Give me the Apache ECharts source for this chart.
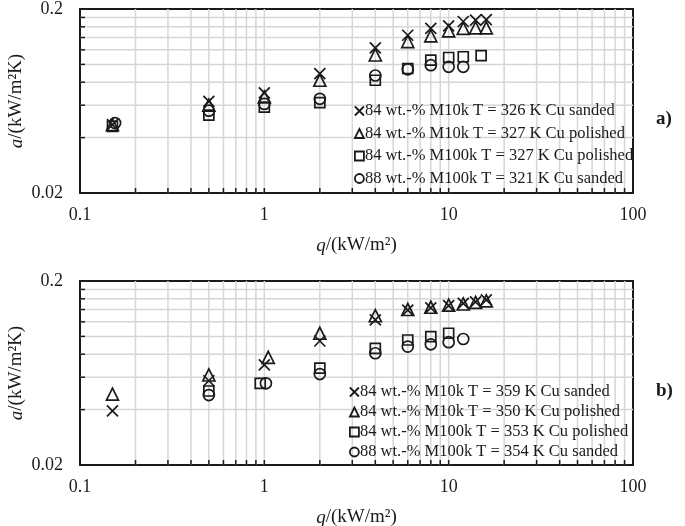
<!DOCTYPE html>
<html>
<head>
<meta charset="utf-8">
<script src="https://cdn.jsdelivr.net/npm/echarts@6/dist/echarts.min.js"></script>
<style>html,body{margin:0;padding:0;background:#fff}#c{width:685px;height:526px}</style>
</head>
<body>
<div id="c"></div>
<script>
// ---------- data ----------
const xTickLabels = [0.1, 1, 10, 100];
const yTickLabels = [0.02, 0.2];
const xGridValues = [0.2,0.3,0.4,0.5,0.6,0.7,0.8,0.9,1,2,3,4,5,6,7,8,9,10,20,30,40,50,60,70,80,90];
const yGridValues = [0.04,0.06,0.08,0.1,0.12,0.14,0.16,0.18];
const X_MIN = 0.1, X_MAX = 100, Y_MIN = 0.02, Y_MAX = 0.2;

// panel a)
const aNames = [
  '84 wt.-% M10k T = 326 K Cu sanded',
  '84 wt.-% M10k T = 327 K Cu polished',
  '84 wt.-% M100k T = 327 K Cu polished',
  '88 wt.-% M100k T = 321 K Cu sanded'
];
const aQ1 = [0.15, 0.5, 1, 2, 4, 6, 8, 10, 12, 14, 16];
const aA1 = [0.047, 0.063, 0.070, 0.089, 0.123, 0.144, 0.157, 0.162, 0.171, 0.174, 0.175];
const aQ2 = [0.15, 0.5, 1, 2, 4, 6, 8, 10, 12, 14, 16];
const aA2 = [0.047, 0.060, 0.0665, 0.082, 0.1125, 0.133, 0.143, 0.152, 0.157, 0.158, 0.158];
const aQ3 = [0.15, 0.5, 1, 2, 4, 6, 8, 10, 12, 15];
const aA3 = [0.046, 0.053, 0.0586, 0.062, 0.082, 0.095, 0.1056, 0.109, 0.110, 0.1115];
const aQ4 = [0.155, 0.5, 1, 2, 4, 6, 8, 10, 12];
const aA4 = [0.048, 0.056, 0.061, 0.065, 0.087, 0.094, 0.099, 0.097, 0.097];

// panel b)
const bNames = [
  '84 wt.-% M10k T = 359 K Cu sanded',
  '84 wt.-% M10k T = 350 K Cu polished',
  '84 wt.-% M100k T = 353 K Cu polished',
  '88 wt.-% M100k T = 354 K Cu sanded'
];
const bQ1 = [0.15, 0.5, 1, 2, 4, 6, 8, 10, 12, 14, 16];
const bA1 = [0.0394, 0.0574, 0.070, 0.0944, 0.123, 0.139, 0.143, 0.147, 0.151, 0.154, 0.158];
const bQ2 = [0.15, 0.5, 1.05, 2, 4, 6, 8, 10, 12, 14, 16];
const bA2 = [0.0486, 0.0617, 0.077, 0.104, 0.1295, 0.140, 0.144, 0.148, 0.150, 0.153, 0.156];
const bQ3 = [0.5, 0.95, 2, 4, 6, 8, 10];
const bA3 = [0.0505, 0.0556, 0.0673, 0.086, 0.0956, 0.0998, 0.104];
const bQ4 = [0.5, 1.02, 2, 4, 6, 8, 10, 12];
const bA4 = [0.048, 0.0556, 0.0624, 0.081, 0.088, 0.0906, 0.093, 0.0968];

// ---------- styling ----------
const FONT = '"Liberation Serif", "Times New Roman", serif';
const INK = '#1a1a1a';
const symbols = [
  {symbol: 'path://M0,0L10,10M10,0L0,10', size: 11},
  {symbol: 'triangle', size: 12},
  {symbol: 'rect', size: 10},
  {symbol: 'circle', size: 11}
];
const zip = (q, a) => q.map((v, i) => [v, a[i]]);

function fmt(list) {
  return function (v) {
    for (const t of list) if (Math.abs(v - t) / t < 1e-6) return String(t);
    return '';
  };
}

function vGrid(params, api) {
  const v = api.value(0);
  const t = api.coord([v, Y_MAX]);
  const b = api.coord([v, Y_MIN]);
  return {type: 'group', children: [
    {type: 'line', shape: {x1: t[0], y1: t[1], x2: b[0], y2: b[1]}, style: {stroke: '#d6d6d6', lineWidth: 1.5}},
    {type: 'line', shape: {x1: b[0], y1: b[1], x2: b[0], y2: b[1] - 5}, style: {stroke: INK, lineWidth: 1.5}}
  ]};
}
function hGrid(params, api) {
  const v = api.value(1);
  const l = api.coord([X_MIN, v]);
  const r = api.coord([X_MAX, v]);
  return {type: 'group', children: [
    {type: 'line', shape: {x1: l[0], y1: l[1], x2: r[0], y2: r[1]}, style: {stroke: '#d6d6d6', lineWidth: 1.5}},
    {type: 'line', shape: {x1: l[0], y1: l[1], x2: l[0] + 5, y2: l[1]}, style: {stroke: INK, lineWidth: 1.5}}
  ]};
}

const grids = [
  {left: 80, top: 9, width: 553, height: 184, show: true, borderColor: INK, borderWidth: 2, backgroundColor: '#fff', containLabel: false, outerBoundsMode: 'none'},
  {left: 80, top: 281, width: 553, height: 184, show: true, borderColor: INK, borderWidth: 2, backgroundColor: '#fff', containLabel: false, outerBoundsMode: 'none'}
];

function xAxis(i) {
  return {
    type: 'log', logBase: 10, gridIndex: i, min: X_MIN, max: X_MAX,
    axisLine: {show: false}, axisTick: {show: false}, splitLine: {show: false}, minorSplitLine: {show: false},
    axisLabel: {fontFamily: FONT, fontSize: 18, color: INK, margin: 13, formatter: fmt(xTickLabels)},
    name: '{i|q}/(kW/m²)', nameLocation: 'middle', nameGap: 43,
    nameTextStyle: {fontFamily: FONT, fontSize: 19, color: INK, rich: {i: {fontFamily: FONT, fontSize: 19, fontStyle: 'italic', color: INK}}}
  };
}
function yAxis(i) {
  return {
    type: 'log', logBase: 10, gridIndex: i, min: Y_MIN, max: Y_MAX,
    axisLine: {show: false}, axisTick: {show: false}, splitLine: {show: false},
    axisLabel: {fontFamily: FONT, fontSize: 18, color: INK, margin: 17, customValues: yTickLabels, formatter: fmt(yTickLabels)},
    name: '{i|a}/(kW/m²K)', nameLocation: 'middle', nameGap: 54, nameMoveOverlap: false,
    nameTextStyle: {fontFamily: FONT, fontSize: 19, color: INK, rich: {i: {fontFamily: FONT, fontSize: 19, fontStyle: 'italic', color: INK}}}
  };
}

const series = [];
[0, 1].forEach(i => {
  series.push({type: 'custom', xAxisIndex: i, yAxisIndex: i, z: 1, silent: true, renderItem: vGrid,
    data: xGridValues.map(v => [v, Y_MIN])});
  series.push({type: 'custom', xAxisIndex: i, yAxisIndex: i, z: 1, silent: true, renderItem: hGrid,
    data: yGridValues.map(v => [X_MIN, v])});
});
const panels = [
  {names: aNames, data: [zip(aQ1, aA1), zip(aQ2, aA2), zip(aQ3, aA3), zip(aQ4, aA4)]},
  {names: bNames, data: [zip(bQ1, bA1), zip(bQ2, bA2), zip(bQ3, bA3), zip(bQ4, bA4)]}
];
panels.forEach((p, i) => {
  p.names.forEach((n, k) => {
    series.push({
      type: 'scatter', name: n, xAxisIndex: i, yAxisIndex: i, z: 5,
      symbol: symbols[k].symbol, symbolSize: symbols[k].size,
      itemStyle: {color: 'rgba(0,0,0,0)', borderColor: INK, borderWidth: 1.7, opacity: 1},
      emphasis: {disabled: true},
      data: p.data[k]
    });
  });
});

function legend(names, left, top, gap) {
  return {
    orient: 'vertical', left: left, top: top, itemGap: gap, itemWidth: 9, itemHeight: 9,
    padding: 0, selectedMode: false,
    textStyle: {fontFamily: FONT, fontSize: 16.5, color: INK, lineHeight: 18, padding: [0, 0, 0, -4]},
    data: names.map((n, k) => ({name: n, icon: symbols[k].symbol,
      itemStyle: {color: 'rgba(0,0,0,0)', borderColor: INK, borderWidth: 1.8}}))
  };
}

const chart = echarts.init(document.getElementById('c'), null, {renderer: 'canvas'});
chart.setOption({
  animation: false,
  backgroundColor: '#fff',
  grid: grids,
  xAxis: [xAxis(0), xAxis(1)],
  yAxis: [yAxis(0), yAxis(1)],
  legend: [legend(aNames, 354, 102, 4.5), legend(bNames, 349, 383, 2)],
  graphic: [
    {type: 'text', left: 656, top: 110, style: {text: 'a)', font: 'bold 19px "Liberation Serif"', fill: INK}},
    {type: 'text', left: 656, top: 382, style: {text: 'b)', font: 'bold 19px "Liberation Serif"', fill: INK}}
  ],
  series: series
});
</script>
</body>
</html>
